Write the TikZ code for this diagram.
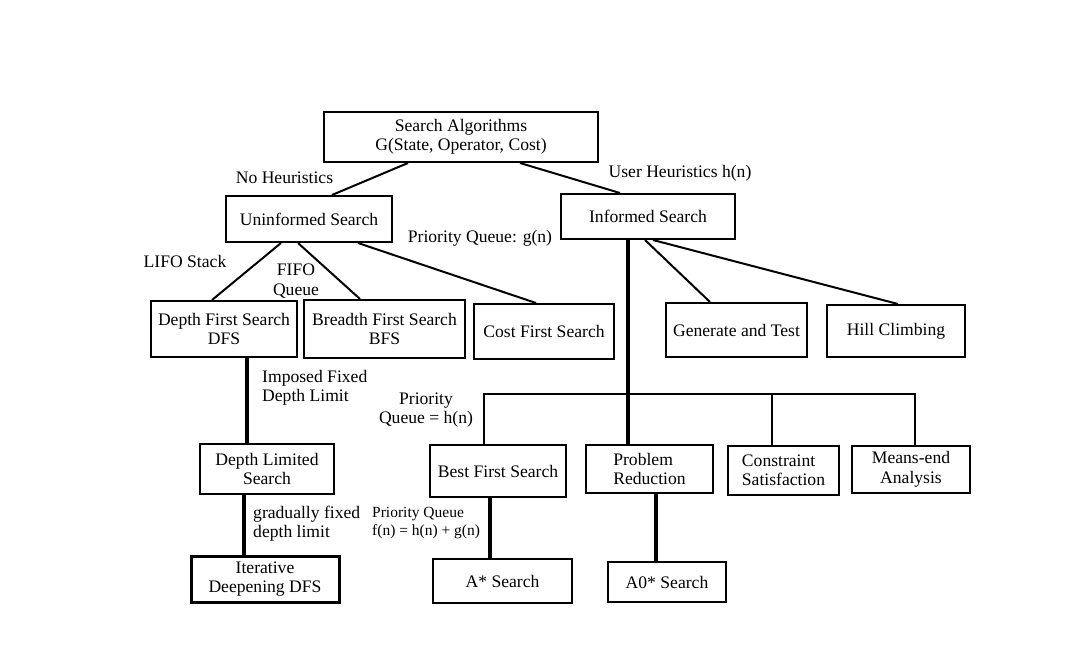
\documentclass[tikz,border=0pt]{standalone}
\usepackage{fontspec}
\setmainfont{Liberation Serif}
\usepackage{tikz}
\usetikzlibrary{positioning}
\tikzset{
box/.style={draw, line width=2pt, align=center, inner sep=2pt},
link/.style={line width=2pt},
trunk/.style={line width=3.4pt},
lbl/.style={align=center, inner sep=0pt},
small/.style={font=\fontsize{15.5}{18}\selectfont}
}

\begin{document}
\begin{tikzpicture}[x=1pt,y=-1pt,font=\fontsize{17.6}{19.5}\selectfont]
\useasboundingbox (0,0) rectangle (1082,648);
% boxes
\node[box,minimum width=274pt,minimum height=50pt] (root) at (461,137) {Search Algorithms\\G(State, Operator, Cost)};
\node[box,minimum width=166pt,minimum height=46pt] (uninf) at (309,219) {Uninformed Search};
\node[box,minimum width=174pt,minimum height=45pt] (inf) at (648,216.5) {Informed Search};
\node[box,minimum width=146pt,minimum height=56pt] (dfs) at (224,329) {Depth First Search\\DFS};
\node[box,minimum width=161pt,minimum height=58pt] (bfs) at (384.5,329) {Breadth First Search\\BFS};
\node[box,minimum width=140pt,minimum height=55pt] (cost) at (544,331.5) {Cost First Search};
\node[box,minimum width=141pt,minimum height=54pt] (gen) at (736.5,330) {Generate and Test};
\node[box,minimum width=138pt,minimum height=52pt] (hill) at (896,331) {Hill Climbing};
\node[box,minimum width=134pt,minimum height=50pt] (dls) at (267,469) {Depth Limited\\Search};
\node[box,line width=3pt,minimum width=148pt,minimum height=46pt] (iddfs) at (265,579) {Iterative\\Deepening DFS};
\node[box,minimum width=136pt,minimum height=52pt] (best) at (498,471) {Best First Search};
\node[box,minimum width=139pt,minimum height=44pt] (astar) at (502.5,581) {A* Search};
\node[box,align=left,minimum width=127pt,minimum height=48pt] (prob) at (649.5,469) {Problem\\Reduction};
\node[box,minimum width=118pt,minimum height=40pt] (azero) at (667,582) {A0* Search};
\node[box,align=left,minimum width=111pt,minimum height=49pt] (cons) at (783.5,470.5) {Constraint\\Satisfaction};
\node[box,minimum width=118pt,minimum height=47pt] (means) at (911,469.5) {Means-end\\Analysis};
% connectors
\draw[link] ([xshift=-53pt]root.south) -- ([xshift=23pt]uninf.north);
\draw[link] ([xshift=59pt]root.south) -- ([xshift=-28pt]inf.north);
\draw[link] ([xshift=-28pt]uninf.south) -- ([xshift=-12pt]dfs.north);
\draw[link] ([xshift=-11pt]uninf.south) -- ([xshift=-24.5pt]bfs.north);
\draw[link] ([xshift=49pt]uninf.south) -- ([xshift=-8pt]cost.north);
\draw[link] ([xshift=-3pt]inf.south) -- ([xshift=-26.5pt]gen.north);
\draw[link] ([xshift=5pt]inf.south) -- ([xshift=2pt]hill.north);
\draw[trunk] ([xshift=-20pt]inf.south) -- ([xshift=-20pt]inf.south |- prob.north);
\coordinate (busR) at (915,394);
\draw[link] ([xshift=-14pt]best.north) |- (busR) -- (busR |- means.north);
\draw[link] ([xshift=-11.5pt]cons.north) -- ([xshift=-11.5pt]cons.north |- busR);
\draw[trunk] ([xshift=23pt]dfs.south) -- ([xshift=23pt]dfs.south |- dls.north);
\draw[trunk] ([xshift=-23pt]dls.south) -- ([xshift=-23pt]dls.south |- iddfs.north);
\draw[trunk] ([xshift=-8pt]best.south) -- ([xshift=-8pt]best.south |- astar.north);
\draw[trunk] ([xshift=6.5pt]prob.south) -- ([xshift=6.5pt]prob.south |- azero.north);
% labels
\node[lbl] (noh) at (284.5,178) {No Heuristics};
\node[lbl] (userh) at (680,173) {User Heuristics h(n)};
\node[lbl] (pqg) at (480,238) {Priority Queue: g(n)};
\node[lbl] (lifo) at (185,261) {LIFO Stack};
\node[lbl] (fifo) at (296,281) {FIFO\\Queue};
\node[lbl,align=left,anchor=west] (imposed) at (262,388) {Imposed Fixed\\Depth Limit};
\node[lbl] (pqh) at (426,410) {Priority\\Queue = h(n)};
\node[lbl,align=left,anchor=west] (grad) at (253,523.5) {gradually fixed\\depth limit};
\node[lbl,small,align=left,anchor=west] (pqf) at (372,523) {Priority Queue\\f(n) = h(n) + g(n)};
\end{tikzpicture}
\end{document}
